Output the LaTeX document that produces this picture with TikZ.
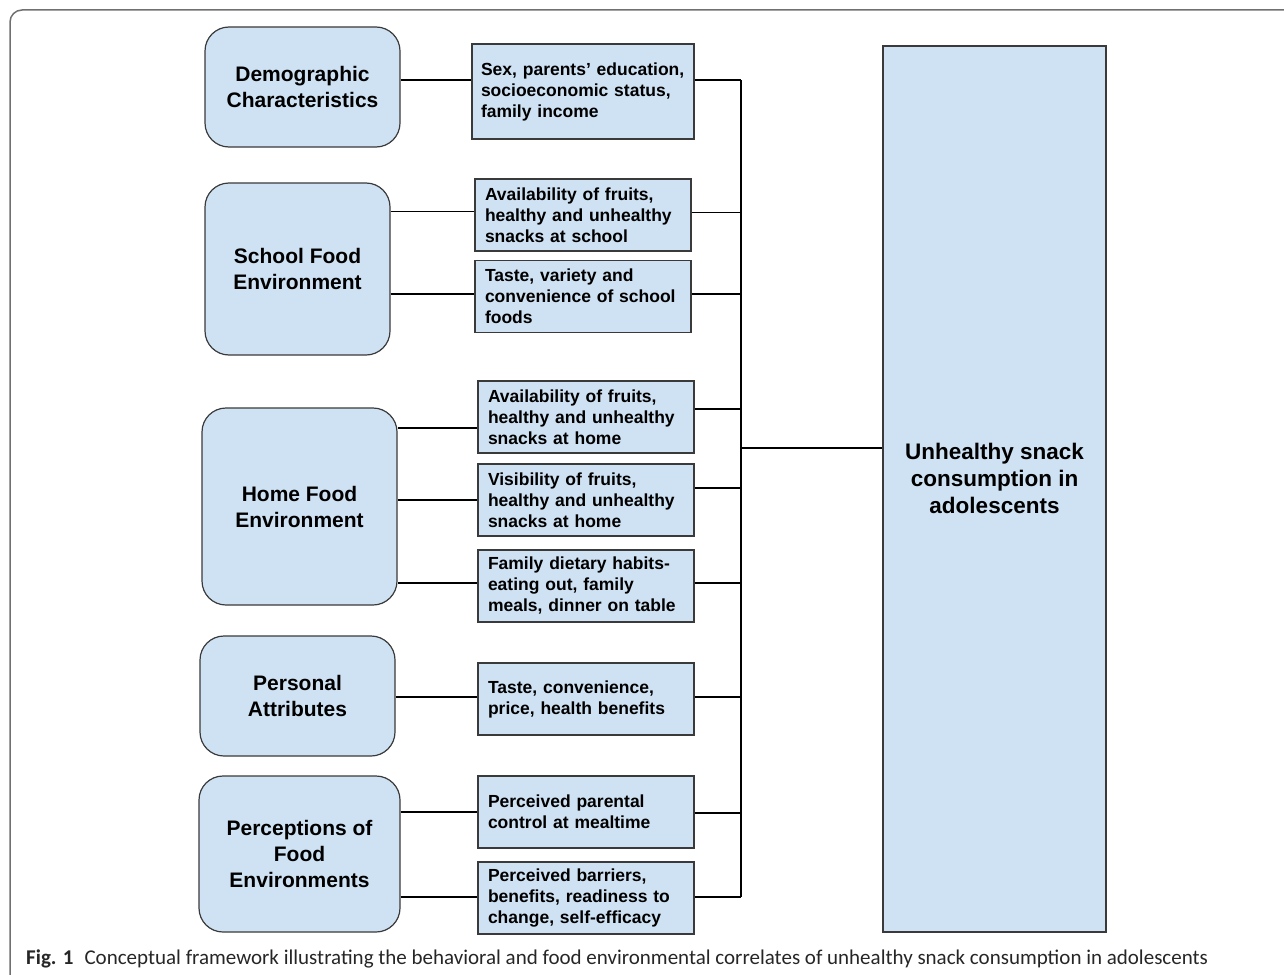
\documentclass[tikz,border=0pt]{standalone}
\usepackage{fontspec}
\setmainfont{Liberation Sans}
\newfontfamily\capfont{Carlito}
\usepackage{tikz}
\usetikzlibrary{positioning}
\hyphenpenalty=10000
\exhyphenpenalty=10000

\definecolor{boxblue}{HTML}{CFE2F3}
\definecolor{boxline}{HTML}{3A3A3A}
\definecolor{framegray}{HTML}{707070}

\tikzset{
  factor/.style={draw=boxline, fill=boxblue, rounded corners=24pt, line width=1.2pt,
    align=center, inner sep=0pt, font=\fontsize{21}{26}\selectfont\bfseries},
  item/.style={draw=boxline, fill=boxblue, line width=1.2pt, align=left,
    inner xsep=10pt, inner ysep=0pt, minimum height=72pt, text width=196pt,
    font=\fontsize{17.5}{21}\selectfont\bfseries},
  outcome/.style={draw=boxline, fill=boxblue, line width=1.2pt,
    minimum width=223pt, minimum height=886pt},
  link/.style={line width=1.8pt, black},
}

\begin{document}
\begin{tikzpicture}[x=1pt, y=-1pt]
\clip (0,0) rectangle (1284,974);
\draw[framegray, line width=1.5pt, rounded corners=12pt] (10,1000) -- (10,10) -- (1300,10);

% factors
\node[factor, minimum width=195pt, minimum height=120pt] (demo) at (302.5,87) {Demographic\\Characteristics};
\node[factor, minimum width=185pt, minimum height=172pt] (school) at (297.5,269) {School Food\\Environment};
\node[factor, minimum width=195pt, minimum height=197pt] (home) at (299.5,506.5) {Home Food\\Environment};
\node[factor, minimum width=195pt, minimum height=120pt] (personal) at (297.5,696) {Personal\\Attributes};
\node[factor, minimum width=201pt, minimum height=156pt] (percep) at (299.5,854) {Perceptions of\\Food\\Environments};

% correlates
\node[item, inner xsep=9pt, text width=204pt, minimum height=95pt] (m1) at (583,91.5) {Sex, parents’ education,\\socioeconomic status,\\family income};
\node[item] (m2) at (583,215) {Availability of fruits,\\healthy and unhealthy\\snacks at school};
\node[item] (m3) at (583,296.5) {Taste, variety and\\convenience of school\\foods};
\node[item] (m4) at (586,417) {Availability of fruits,\\healthy and unhealthy\\snacks at home};
\node[item] (m5) at (586,500) {Visibility of fruits,\\healthy and unhealthy\\snacks at home};
\node[item] (m6) at (586,586) {Family dietary habits-\\eating out, family\\meals, dinner on table};
\node[item] (m7) at (586,699) {Taste, convenience,\\price, health benefits};
\node[item] (m8) at (586,812) {Perceived parental\\control at mealtime};
\node[item] (m9) at (586,898) {Perceived barriers,\\benefits, readiness to\\change, self-efficacy};

% outcome
\node[outcome, label={[align=center, yshift=11pt, font=\fontsize{22.5}{27}\selectfont\bfseries]center:Unhealthy snack\\consumption in\\adolescents}] (snack) at (994.5,489) {};
\coordinate (bus) at (741,448);

% links (offsets in pt, up is positive)
\foreach \i/\f/\a/\b in {1/demo/11.5/11.5, 2/school/3.5/2.5, 3/school/2.5/2.5,
    4/home/-11/8, 5/home/0/12, 6/home/3/3, 7/personal/2/2, 8/percep/0/-1, 9/percep/1/1} {
  \path ([yshift=\a pt]m\i.west) coordinate (l\i);
  \path ([yshift=\b pt]m\i.east) coordinate (r\i);
  \draw[link] (l\i -| \f.east) -- (l\i);
  \draw[link] (r\i) -- (r\i -| bus);
}
\draw[link] (r1 -| bus) -- (r9 -| bus);
\draw[link] (bus) -- (snack.west |- bus);

% caption
\node[anchor=base west, inner sep=0pt, text=black!85, font=\capfont\fontsize{21}{24}\selectfont] (caption) at (26,964)
  {\textbf{Fig. 1}\hspace{11pt}Conceptual framework illustrating the behavioral and food environmental correlates of unhealthy snack consumption in adolescents};
\end{tikzpicture}
\end{document}
